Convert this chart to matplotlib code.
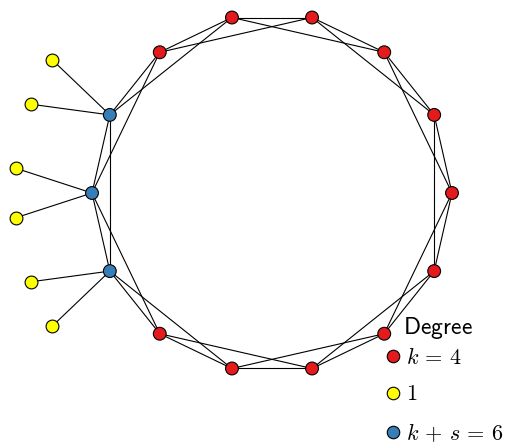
import numpy as np
import matplotlib
matplotlib.use("Agg")
import matplotlib.pyplot as plt
from matplotlib.lines import Line2D

plt.rcParams['mathtext.fontset'] = 'cm'

# ring graph: 14 nodes, each linked to neighbours at distance 1 and 2
ring_size = 14
ring_offsets = [1, 2]
hub_nodes = [6, 7, 8]        # nodes that get extra leaves (s = 2)
leaves_per_hub = 2
leaf_spread_deg = 18

legend_labels = [r'$k\,=\,4$', r'$1$', r'$k\,+\,s\,=\,6$']
legend_colors = ['#e41a1c', '#ffff00', '#377eb8']

red, yellow, blue = legend_colors

fig = plt.figure(figsize=(5.06, 4.43), dpi=100)
ax = fig.add_axes([0, 0, 1, 1])

# circular layout
ang = 2 * np.pi * np.arange(ring_size) / ring_size
pos = np.column_stack([np.cos(ang), np.sin(ang)])

# ring edges
for i in range(ring_size):
    for off in ring_offsets:
        j = (i + off) % ring_size
        ax.plot([pos[i, 0], pos[j, 0]], [pos[i, 1], pos[j, 1]],
                color='black', lw=0.8, zorder=1)

# leaves
leaf_r = 0.444
leaf_pos = []
for h in hub_nodes:
    for d in np.linspace(-leaf_spread_deg, leaf_spread_deg, leaves_per_hub):
        a = ang[h] + np.deg2rad(d)
        p = pos[h] + leaf_r * np.array([np.cos(a), np.sin(a)])
        leaf_pos.append(p)
        ax.plot([pos[h, 0], p[0]], [pos[h, 1], p[1]], color='black', lw=0.8, zorder=1)
leaf_pos = np.array(leaf_pos)

colors = [blue if i in hub_nodes else red for i in range(ring_size)]
ax.scatter(pos[:, 0], pos[:, 1], s=85, c=colors, edgecolors='black', linewidths=0.8, zorder=2)
ax.scatter(leaf_pos[:, 0], leaf_pos[:, 1], s=85, c=yellow, edgecolors='black', linewidths=0.8, zorder=2)

handles = [Line2D([], [], marker='o', ls='', markersize=9, markerfacecolor=c,
                  markeredgecolor='black', markeredgewidth=0.8) for c in legend_colors]
leg = ax.legend(handles, legend_labels, title=r'$\;\;\;\mathsf{Degree}$', loc='lower left',
                bbox_to_anchor=(384 / 506, -3 / 443), frameon=False, fontsize=16,
                title_fontsize=17, handlelength=0.6, handletextpad=0.3,
                labelspacing=0.75, borderaxespad=0, borderpad=0.1)
leg._legend_box.align = 'left'
leg._legend_box.sep = 4

ax.set_xlim(-272 / 180, (506 - 272) / 180)
ax.set_ylim(-(443 - 193) / 180, 193 / 180)
ax.set_aspect('equal')
ax.axis('off')

fig.savefig('out.png', dpi=100)
